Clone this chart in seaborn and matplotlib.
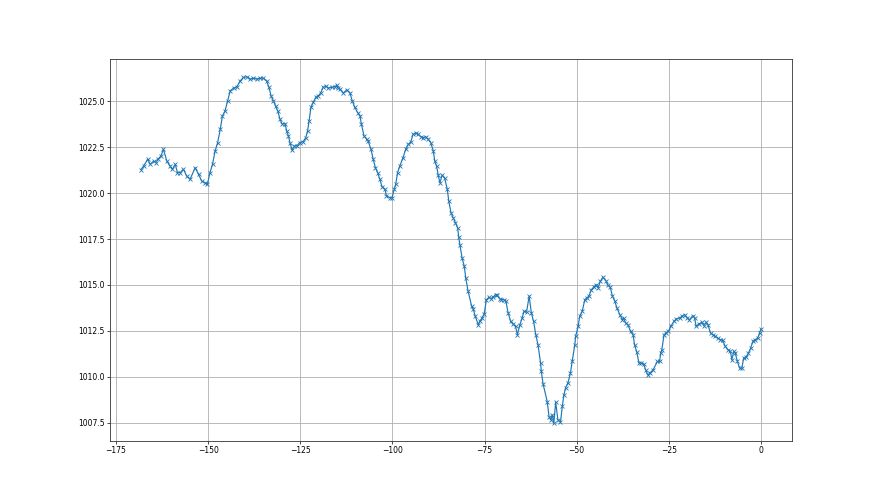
import matplotlib
matplotlib.use("Agg")
import matplotlib.pyplot as plt
import seaborn as sns

# hours before now
hours = [
    -168.2, -167.5, -166.4, -165.7, -164.8, -164.2, -163.6, -162.8, -162.1, -161.2,
    -160.3, -159.7, -158.9, -158.3, -157.6, -156.7, -155.8, -154.9, -153.5, -152.6,
    -151.7, -150.8, -150.2, -149.5, -148.8, -148.1, -147.4, -146.7, -146.1, -145.4,
    -144.7, -144.0, -143.1, -142.2, -141.3, -140.4, -139.5, -138.6, -137.7, -136.8,
    -135.9, -135.0, -134.1, -133.5, -132.9, -132.3, -131.7, -131.1, -130.5, -129.9,
    -129.1, -128.7, -128.2, -127.8, -127.2, -126.6, -126.0, -125.1, -124.2, -123.5,
    -123.0, -122.6, -122.1, -121.5, -120.8, -120.1, -119.4, -118.8, -118.1, -117.4,
    -116.5, -115.6, -115.1, -114.7, -114.2, -113.3, -112.4, -111.5, -110.9, -110.2,
    -109.4, -108.8, -108.4, -107.7, -107.0, -106.6, -105.8, -105.2, -104.6, -104.0,
    -103.4, -102.8, -102.0, -101.6, -100.7, -100.1, -99.5, -99.1, -98.6, -98.0,
    -97.1, -96.4, -95.7, -95.0, -94.4, -93.7, -93.0, -92.3, -91.7, -91.0,
    -90.3, -89.6, -88.9, -88.5, -88.0, -87.6, -87.1, -86.5, -85.8, -85.1,
    -84.7, -84.1, -83.5, -82.9, -82.3, -82.0, -81.7, -81.1, -80.5, -80.1,
    -79.5, -78.5, -78.1, -77.5, -76.7, -76.3, -75.7, -75.1, -74.5, -73.8,
    -73.3, -72.7, -72.0, -71.5, -70.9, -70.4, -69.8, -69.2, -68.6, -67.9,
    -67.3, -66.6, -66.1, -65.4, -64.8, -64.3, -63.6, -62.9, -62.3, -61.7,
    -61.1, -60.5, -59.8, -59.6, -59.1, -58.0, -57.5, -57.0, -56.6, -56.2,
    -55.7, -55.1, -54.4, -53.9, -53.5, -53.0, -52.4, -51.7, -51.2, -50.5,
    -50.3, -49.6, -49.2, -48.5, -47.8, -47.2, -46.7, -46.0, -45.4, -44.7,
    -44.2, -43.6, -42.9, -42.1, -41.5, -40.9, -40.3, -39.7, -39.1, -38.3,
    -37.6, -37.3, -36.7, -36.1, -35.4, -34.7, -34.3, -33.7, -33.1, -32.5,
    -31.8, -31.3, -30.7, -30.2, -29.3, -28.1, -27.5, -27.2, -26.9, -26.3,
    -25.7, -25.1, -24.5, -23.6, -23.0, -22.1, -21.5, -20.7, -20.0, -19.4,
    -18.5, -18.0, -17.6, -16.7, -16.0, -15.5, -14.9, -14.4, -13.7, -13.1,
    -12.4, -11.7, -11.0, -10.4, -9.7, -9.0, -8.3, -7.9, -7.4, -7.0,
    -6.4, -5.8, -5.2, -4.7, -4.0, -3.4, -2.8, -2.2, -1.6, -0.9,
    -0.4, 0.0,
]

# pressure in hPa
pressure = [
    1021.28, 1021.47, 1021.84, 1021.56, 1021.74, 1021.66, 1021.84, 1022.02, 1022.38, 1021.74,
    1021.47, 1021.29, 1021.56, 1021.11, 1021.11, 1021.29, 1020.93, 1020.75, 1021.38, 1021.02,
    1020.65, 1020.56, 1020.47, 1021.11, 1021.56, 1022.29, 1022.75, 1023.47, 1024.20, 1024.47,
    1025.02, 1025.56, 1025.71, 1025.78, 1026.10, 1026.29, 1026.33, 1026.20, 1026.25, 1026.20,
    1026.25, 1026.25, 1026.10, 1025.75, 1025.29, 1025.02, 1024.74, 1024.47, 1024.02, 1023.75,
    1023.78, 1023.38, 1023.11, 1022.75, 1022.33, 1022.56, 1022.56, 1022.75, 1022.80, 1023.02,
    1023.38, 1023.93, 1024.66, 1024.93, 1025.20, 1025.29, 1025.47, 1025.75, 1025.83, 1025.71,
    1025.75, 1025.78, 1025.87, 1025.71, 1025.65, 1025.44, 1025.62, 1025.44, 1025.02, 1024.66,
    1024.38, 1024.20, 1023.75, 1023.11, 1022.93, 1022.84, 1022.38, 1021.84, 1021.38, 1021.11,
    1020.75, 1020.35, 1020.20, 1019.84, 1019.75, 1019.75, 1020.20, 1020.47, 1021.11, 1021.47,
    1021.93, 1022.38, 1022.65, 1022.78, 1023.20, 1023.26, 1023.20, 1023.07, 1023.02, 1023.07,
    1022.93, 1022.75, 1022.29, 1021.74, 1021.47, 1021.00, 1020.56, 1020.98, 1020.80, 1020.20,
    1019.56, 1018.93, 1018.66, 1018.38, 1018.11, 1017.60, 1017.20, 1016.48, 1016.02, 1015.39,
    1014.70, 1013.84, 1013.71, 1013.29, 1012.84, 1013.02, 1013.20, 1013.42, 1014.20, 1014.33,
    1014.26, 1014.33, 1014.48, 1014.44, 1014.26, 1014.20, 1014.20, 1014.11, 1013.48, 1013.02,
    1012.88, 1012.75, 1012.30, 1012.84, 1013.20, 1013.57, 1013.53, 1014.39, 1013.48, 1013.02,
    1012.30, 1011.75, 1010.75, 1010.30, 1009.60, 1008.66, 1007.84, 1007.66, 1007.93, 1007.48,
    1008.63, 1007.66, 1007.54, 1008.39, 1008.99, 1009.42, 1009.66, 1010.20, 1010.88, 1011.75,
    1012.20, 1012.75, 1013.29, 1013.57, 1014.20, 1014.30, 1014.39, 1014.75, 1014.88, 1015.02,
    1014.84, 1015.20, 1015.42, 1015.24, 1014.98, 1014.88, 1014.39, 1014.15, 1013.75, 1013.39,
    1013.11, 1013.20, 1012.93, 1012.84, 1012.48, 1012.30, 1011.75, 1011.35, 1010.75, 1010.75,
    1010.69, 1010.38, 1010.10, 1010.20, 1010.38, 1010.84, 1010.84, 1011.30, 1011.48, 1012.30,
    1012.39, 1012.48, 1012.75, 1013.02, 1013.15, 1013.20, 1013.29, 1013.39, 1013.20, 1013.11,
    1013.33, 1013.20, 1012.75, 1012.90, 1012.97, 1012.79, 1012.97, 1012.84, 1012.39, 1012.30,
    1012.20, 1012.11, 1012.02, 1011.99, 1011.66, 1011.48, 1011.39, 1010.93, 1011.39, 1011.30,
    1010.84, 1010.48, 1010.48, 1011.02, 1011.08, 1011.30, 1011.57, 1011.93, 1012.02, 1012.11,
    1012.39, 1012.60,
]

fig, ax = plt.subplots(figsize=(8.8, 4.95), dpi=100)
fig.subplots_adjust(left=0.125, right=0.9, top=0.88, bottom=0.11)

sns.lineplot(x=hours, y=pressure, ax=ax, estimator=None, sort=False,
             color="#1f77b4", linewidth=0.85, marker="x", markersize=3.3,
             markeredgecolor="#1f77b4", markeredgewidth=0.6)

ax.grid(True, color="#b0b0b0", linewidth=0.6)
ax.set_axisbelow(True)
ax.tick_params(labelsize=5.5, length=2, width=0.5, pad=2)
for s in ax.spines.values():
    s.set_linewidth(0.6)
    s.set_color("#333333")

fig.savefig("out.png", dpi=100)
